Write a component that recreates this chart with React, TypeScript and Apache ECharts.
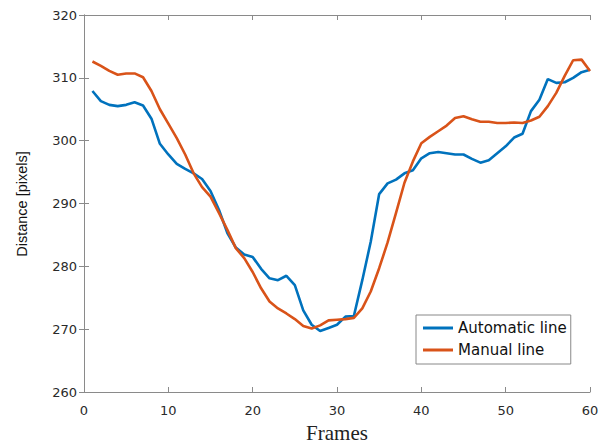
import React, { useEffect, useRef } from "react";
import * as echarts from "echarts";

const frames: number[] = [
  1, 2, 3, 4, 5, 6, 7, 8, 9, 10, 11, 12, 13, 14, 15, 16, 17, 18, 19, 20,
  21, 22, 23, 24, 25, 26, 27, 28, 29, 30, 31, 32, 33, 34, 35, 36, 37, 38, 39, 40,
  41, 42, 43, 44, 45, 46, 47, 48, 49, 50, 51, 52, 53, 54, 55, 56, 57, 58, 59, 60,
];

const automaticLine: number[] = [
  307.9, 306.3, 305.7, 305.5, 305.7, 306.1, 305.6, 303.5, 299.5, 297.8,
  296.3, 295.5, 294.8, 293.9, 292.0, 289.0, 285.3, 283.0, 281.9, 281.5,
  279.6, 278.1, 277.8, 278.5, 277.0, 273.0, 270.7, 269.7, 270.2, 270.7,
  272.0, 272.1, 277.8, 283.9, 291.5, 293.2, 293.8, 294.8, 295.3, 297.2,
  298.0, 298.2, 298.0, 297.8, 297.8, 297.1, 296.5, 296.9, 298.0, 299.1,
  300.5, 301.1, 304.7, 306.5, 309.8, 309.2, 309.3, 310.0, 310.9, 311.3,
];

const manualLine: number[] = [
  312.6, 311.9, 311.1, 310.5, 310.7, 310.7, 310.1, 307.9, 305.0, 302.7,
  300.4, 297.8, 294.8, 292.6, 291.1, 288.5, 285.8, 282.9, 281.3, 279.1,
  276.5, 274.4, 273.3, 272.5, 271.6, 270.5, 270.1, 270.6, 271.4, 271.5,
  271.6, 271.8, 273.3, 276.0, 279.7, 283.8, 288.5, 293.3, 296.7, 299.6,
  300.6, 301.5, 302.4, 303.6, 303.9, 303.4, 303.0, 303.0, 302.8, 302.8,
  302.9, 302.8, 303.2, 303.8, 305.5, 307.6, 310.3, 312.8, 312.9, 311.1,
];

const seriesNames: string[] = ["Automatic line", "Manual line"];
const seriesColors: string[] = ["#0072BD", "#D95319"];

const xTitle = "Frames";
const yTitle = "Distance [pixels]";

const AXIS_COLOR = "#8a8a8a";
const LABEL_COLOR = "#2a2a2a";

export default function App() {
  const ref = useRef<HTMLDivElement>(null);

  useEffect(() => {
    if (!ref.current) return;
    const chart = echarts.init(ref.current, undefined, { renderer: "svg" });

    const baseAxis = {
      type: "value" as const,
      axisLine: { show: true, lineStyle: { color: AXIS_COLOR, width: 1 } },
      axisTick: { show: true, inside: true, length: 5, lineStyle: { color: AXIS_COLOR } },
      splitLine: { show: false },
    };

    const toPairs = (vals: number[]) => frames.map((f, i) => [f, vals[i]]);

    chart.setOption({
      animation: false,
      backgroundColor: "#ffffff",
      grid: { left: 84, right: 19, top: 15, bottom: 53, containLabel: false },
      xAxis: [
        {
          ...baseAxis,
          position: "bottom",
          min: 0,
          max: 60,
          interval: 10,
          axisLabel: {
            color: LABEL_COLOR,
            fontFamily: "DejaVu Sans",
            fontSize: 13,
            margin: 12,
          },
        },
        {
          ...baseAxis,
          position: "top",
          min: 0,
          max: 60,
          interval: 10,
          axisLabel: { show: false },
        },
      ],
      yAxis: [
        {
          ...baseAxis,
          position: "left",
          min: 260,
          max: 320,
          interval: 10,
          axisLabel: {
            color: LABEL_COLOR,
            fontFamily: "DejaVu Sans",
            fontSize: 13,
            margin: 7,
          },
        },
        {
          ...baseAxis,
          position: "right",
          min: 260,
          max: 320,
          interval: 10,
          axisLabel: { show: false },
        },
      ],
      legend: {
        show: true,
        orient: "vertical",
        left: 416,
        top: 315,
        backgroundColor: "#ffffff",
        borderColor: "#888888",
        borderWidth: 1,
        borderRadius: 0,
        padding: [3, 4, 4, 7],
        itemGap: 2,
        itemWidth: 30,
        itemHeight: 3,
        icon: "rect",
        textStyle: {
          fontFamily: "DejaVu Sans",
          fontSize: 15,
          color: "#111111",
          lineHeight: 20,
        },
        data: seriesNames,
      },
      graphic: [
        {
          type: "text",
          x: 21.5,
          y: 204,
          rotation: Math.PI / 2,
          style: {
            text: yTitle,
            align: "center",
            verticalAlign: "middle",
            font: '14.5px "Liberation Sans", Arial, sans-serif',
            fill: "#111111",
          },
        },
        {
          type: "text",
          x: 337,
          y: 443,
          style: {
            text: xTitle,
            align: "center",
            verticalAlign: "bottom",
            font: '21px "Liberation Serif", "Times New Roman", serif',
            fill: "#222222",
          },
        },
      ],
      series: [
        {
          name: seriesNames[0],
          type: "line",
          data: toPairs(automaticLine),
          symbol: "none",
          lineStyle: { color: seriesColors[0], width: 2.6 },
          itemStyle: { color: seriesColors[0] },
          z: 2,
        },
        {
          name: seriesNames[1],
          type: "line",
          data: toPairs(manualLine),
          symbol: "none",
          lineStyle: { color: seriesColors[1], width: 2.6 },
          itemStyle: { color: seriesColors[1] },
          z: 3,
        },
      ],
    });

    return () => chart.dispose();
  }, []);

  return <div ref={ref} style={{ width: 609, height: 445, position: "absolute", left: 0, top: 0 }} />;
}
